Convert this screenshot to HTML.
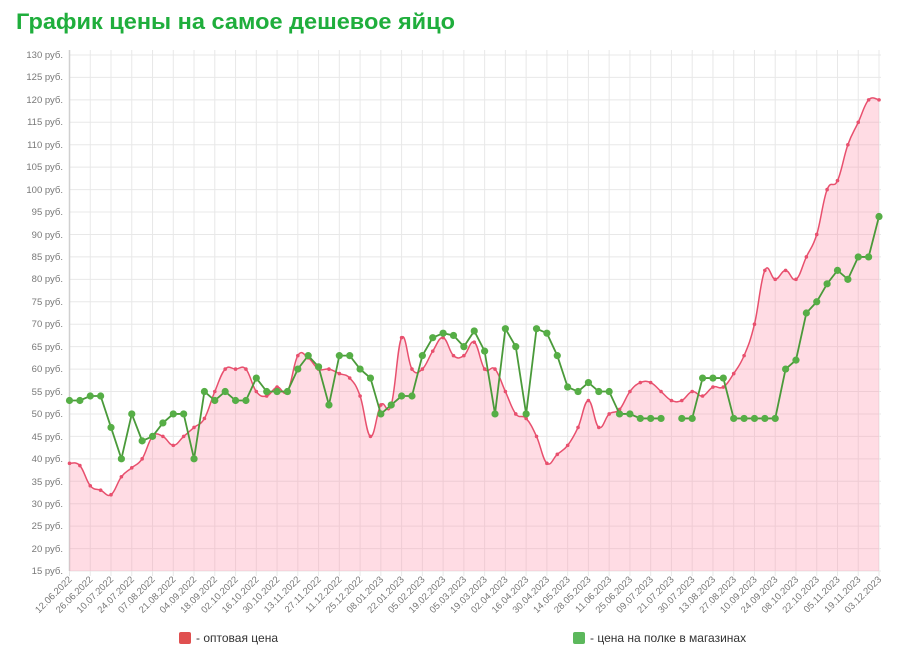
<!DOCTYPE html>
<html><head><meta charset="utf-8">
<style>
body{margin:0;background:#fff;width:900px;height:652px;overflow:hidden;font-family:"Liberation Sans",sans-serif;}
</style></head>
<body>
<svg id="c" width="900" height="652" xmlns="http://www.w3.org/2000/svg" font-family="Liberation Sans, sans-serif">
<text x="16" y="29" font-size="22" font-weight="bold" fill="#1fae3c" textLength="439" lengthAdjust="spacingAndGlyphs">График цены на самое дешевое яйцо</text>
<g id="grid"></g>
<g font-size="9.5" fill="#777" text-anchor="end">
<text x="63" y="58">130 руб.</text><text x="63" y="80">125 руб.</text><text x="63" y="103">120 руб.</text><text x="63" y="125">115 руб.</text><text x="63" y="148">110 руб.</text><text x="63" y="170">105 руб.</text><text x="63" y="193">100 руб.</text><text x="63" y="215">95 руб.</text><text x="63" y="238">90 руб.</text><text x="63" y="260">85 руб.</text><text x="63" y="282">80 руб.</text><text x="63" y="305">75 руб.</text><text x="63" y="327">70 руб.</text><text x="63" y="350">65 руб.</text><text x="63" y="372">60 руб.</text><text x="63" y="395">55 руб.</text><text x="63" y="417">50 руб.</text><text x="63" y="440">45 руб.</text><text x="63" y="462">40 руб.</text><text x="63" y="485">35 руб.</text><text x="63" y="507">30 руб.</text><text x="63" y="529">25 руб.</text><text x="63" y="552">20 руб.</text><text x="63" y="574">15 руб.</text>
</g>
<g id="xl" font-size="9.5" fill="#777" text-anchor="end">
<text>12.06.2022</text><text>26.06.2022</text><text>10.07.2022</text><text>24.07.2022</text><text>07.08.2022</text><text>21.08.2022</text><text>04.09.2022</text><text>18.09.2022</text><text>02.10.2022</text><text>16.10.2022</text><text>30.10.2022</text><text>13.11.2022</text><text>27.11.2022</text><text>11.12.2022</text><text>25.12.2022</text><text>08.01.2023</text><text>22.01.2023</text><text>05.02.2023</text><text>19.02.2023</text><text>05.03.2023</text><text>19.03.2023</text><text>02.04.2023</text><text>16.04.2023</text><text>30.04.2023</text><text>14.05.2023</text><text>28.05.2023</text><text>11.06.2023</text><text>25.06.2023</text><text>09.07.2023</text><text>21.07.2023</text><text>30.07.2023</text><text>13.08.2023</text><text>27.08.2023</text><text>10.09.2023</text><text>24.09.2023</text><text>08.10.2023</text><text>22.10.2023</text><text>05.11.2023</text><text>19.11.2023</text><text>03.12.2023</text>
</g>
<g id="data"></g>
<rect x="179" y="632" width="12" height="12" rx="2" fill="#e05050"/>
<text x="196" y="642" font-size="12" fill="#333">- оптовая цена</text>
<rect x="573" y="632" width="12" height="12" rx="2" fill="#5cb85c"/>
<text x="590" y="642" font-size="12" fill="#333">- цена на полке в магазинах</text>
</svg>
<script>
var NS="http://www.w3.org/2000/svg";
function el(t,a,p){var e=document.createElementNS(NS,t);for(var k in a)e.setAttribute(k,a[k]);p.appendChild(e);return e;}
var L=69.5,R=879,T=55,B=571;
function Y(v){return T+(130-v)*(B-T)/115;}
var g=document.getElementById('grid');
for(var v=15;v<=130;v+=5){el('line',{x1:L,x2:R+2,y1:Y(v),y2:Y(v),stroke:'#e8e8e8','stroke-width':1},g);}
var step=(R-L)/39;
var xl=document.getElementById('xl').children;
for(var i=0;i<40;i++){var x=L+i*step;el('line',{x1:x,x2:x,y1:T-5,y2:B+5,stroke:'#e8e8e8','stroke-width':1},g);
 xl[i].setAttribute('transform','translate('+(x+3)+','+(B+9)+') rotate(-45)');}
el('line',{x1:L,x2:L,y1:T-5,y2:B,stroke:'#d0d0d0','stroke-width':1.5},g);
var p=[39,38.5,34,33,32,36,38,40,45,45,43,45,47,49,55,60,60,60,55,54,56,55,63,62.5,60,60,59,58,54,45,52,52,67,60,60,64,67,63,63,66,60,60,55,50,49,45,39,41,43,47,53,47,50,51,55,57,57,55,53,53,55,54,56,56,59,63,70,82,80,82,80,85,90,100,102,110,115,120,120];
var q=[53,53,54,54,47,40,50,44,45,48,50,50,40,55,53,55,53,53,58,55,55,55,60,63,60.5,52,63,63,60,58,50,52,54,54,63,67,68,67.5,65,68.5,64,50,69,65,50,69,68,63,56,55,57,55,55,50,50,49,49,49,null,49,49,58,58,58,49,49,49,49,49,60,62,72.5,75,79,82,80,85,85,94];
var n=p.length, dx=(R-L)/(n-1);
var d=document.getElementById('data');
var pts=p.map(function(v,i){return [L+i*dx,Y(v)];});
function smooth(a){var s='M'+a[0][0]+','+a[0][1];for(var i=0;i<a.length-1;i++){var p0=a[Math.max(0,i-1)],p1=a[i],p2=a[i+1],p3=a[Math.min(a.length-1,i+2)],t=0.2;
 s+=' C'+(p1[0]+(p2[0]-p0[0])*t)+','+(p1[1]+(p2[1]-p0[1])*t)+' '+(p2[0]-(p3[0]-p1[0])*t)+','+(p2[1]-(p3[1]-p1[1])*t)+' '+p2[0]+','+p2[1];}return s;}
var sp=smooth(pts);
el('path',{d:sp+' L'+R+','+B+' L'+L+','+B+' Z',fill:'rgba(255,140,165,0.3)'},d);
el('path',{d:sp,fill:'none',stroke:'#e8506e','stroke-width':1.5},d);
pts.forEach(function(a){el('circle',{cx:a[0],cy:a[1],r:1.8,fill:'#e8506e'},d);});
var seg=[],segs=[];q.forEach(function(v,i){if(v==null){if(seg.length)segs.push(seg);seg=[];}else seg.push([L+i*dx,Y(v)]);});segs.push(seg);
segs.forEach(function(s){el('polyline',{points:s.map(function(a){return a.join(',')}).join(' '),fill:'none',stroke:'#4a9a3a','stroke-width':1.8},d);});
segs.forEach(function(s){s.forEach(function(a){el('circle',{cx:a[0],cy:a[1],r:3.6,fill:'#56ae46'},d);});});
</script>
</body></html>
